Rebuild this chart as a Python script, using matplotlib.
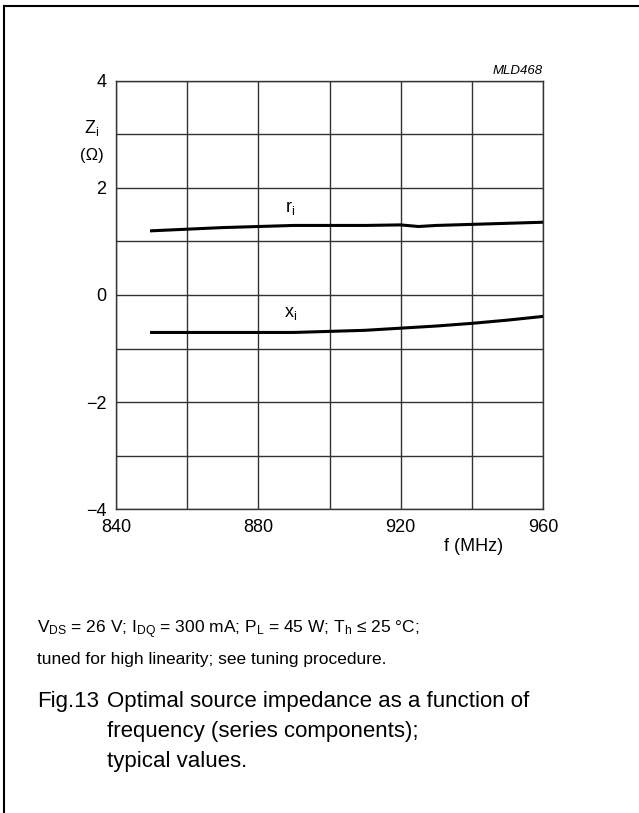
import matplotlib
matplotlib.use("Agg")
import matplotlib.pyplot as plt
from matplotlib.lines import Line2D

plt.rcParams['font.family'] = ['Liberation Sans', 'DejaVu Sans']
plt.rcParams['mathtext.fontset'] = 'custom'
plt.rcParams['mathtext.rm'] = 'Liberation Sans'
plt.rcParams['mathtext.it'] = 'Liberation Sans:italic'

# data
freq = [850, 860, 870, 880, 890, 900, 910, 920, 925, 930, 940, 950, 960]
r_i = [1.20, 1.23, 1.26, 1.28, 1.30, 1.30, 1.30, 1.31, 1.28, 1.30, 1.32, 1.34, 1.36]
x_i = [-0.70, -0.70, -0.70, -0.70, -0.70, -0.68, -0.66, -0.62, -0.60, -0.58, -0.53, -0.47, -0.40]

x_ticks = [840, 880, 920, 960]
y_ticks = [4, 2, 0, -2, -4]
y_labels = ["4", "2", "0", "\u22122", "\u22124"]

fig = plt.figure(figsize=(6.39, 8.13), dpi=100)

# frame around the figure (top and left only)
fig.add_artist(Line2D([0.007, 1.0], [0.9926, 0.9926], color="black", lw=1.5, transform=fig.transFigure))
fig.add_artist(Line2D([0.007, 0.007], [0.0, 0.9926], color="black", lw=1.5, transform=fig.transFigure))

ax = fig.add_axes([0.1815, 0.3739, 0.6683, 0.5265])
ax.set_xlim(840, 960)
ax.set_ylim(-4, 4)

ax.set_xticks(range(840, 961, 20), minor=True)
ax.set_yticks(range(-4, 5, 1), minor=True)
ax.set_xticks(x_ticks)
ax.set_yticks(y_ticks)
ax.set_yticklabels(y_labels)
ax.grid(True, which="both", color="#333333", lw=1.0)
ax.tick_params(which="both", length=0, labelsize=13)
ax.tick_params(axis="x", pad=7)
ax.tick_params(axis="y", pad=7)
for s in ax.spines.values():
    s.set_color("#333333")
    s.set_linewidth(1.0)

ax.plot(freq, r_i, color="black", lw=2.2)
ax.plot(freq, x_i, color="black", lw=2.2)

ax.text(889, 1.63, r"r$_{\rm i}$", fontsize=13, ha="center", va="center")
ax.text(889, -0.34, r"x$_{\rm i}$", fontsize=13, ha="center", va="center")

ax.text(-0.056, 0.89, r"Z$_{\rm i}$", fontsize=13, ha="center", va="center", transform=ax.transAxes)
ax.text(-0.056, 0.827, "(\u03a9)", fontsize=12, ha="center", va="center", transform=ax.transAxes)
ax.text(0.837, -0.088, "f (MHz)", fontsize=13, ha="center", va="center", transform=ax.transAxes)
ax.text(1.0, 1.01, "MLD468", fontsize=9.5, style="italic", ha="right", va="bottom", transform=ax.transAxes)

fig.text(37 / 639, 1 - 630 / 813,
         r"V$_{\rm DS}$ = 26 V; I$_{\rm DQ}$ = 300 mA; P$_{\rm L}$ = 45 W; T$_{\rm h}$" + " \u2264 25 \u00b0C;",
         fontsize=12.5, va="center")
fig.text(37 / 639, 1 - 659 / 813, "tuned for high linearity; see tuning procedure.",
         fontsize=12.5, va="center")

fig.text(37 / 639, 1 - 701 / 813, "Fig.13", fontsize=16, va="center")
fig.text(107 / 639, 1 - 701 / 813, "Optimal source impedance as a function of", fontsize=16, va="center")
fig.text(107 / 639, 1 - 731 / 813, "frequency (series components);", fontsize=16, va="center")
fig.text(107 / 639, 1 - 761 / 813, "typical values.", fontsize=16, va="center")

fig.savefig("out.png", dpi=100)
